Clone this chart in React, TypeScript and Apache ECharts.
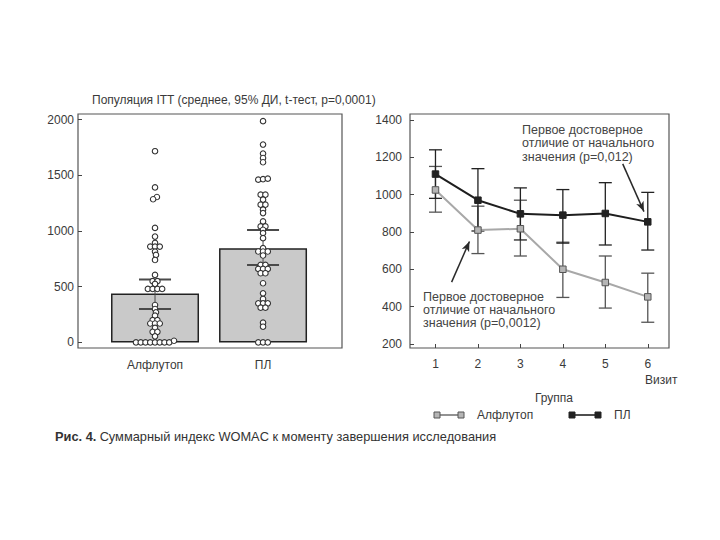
import React, { useEffect, useRef } from "react";
import * as echarts from "echarts";

// ---------- Left panel: ITT population ----------
const groups = ["Алфлутоп", "ПЛ"];
const groupMeans = [440, 845];
const groupCILow = [300, 695];
const groupCIHigh = [565, 1010];
const leftTicks = [0, 500, 1000, 1500, 2000];

// individual values: [value, column slot in the swarm]
const alflutopPoints = [
  [1716, 0], [1391, 0], [1305, 0.4], [1285, -0.4], [1028, 0], [950, 0], [893, 0],
  [860, -1], [860, 0], [860, 1], [815, 0], [785, 0.2], [740, 0],
  [606, 0], [550, -0.5], [550, 0.5], [525, 0],
  [480, -1.5], [480, -0.5], [480, 0.5], [480, 1.5],
  [336, 0], [300, 0], [270, 0.2], [240, 0], [200, -0.5], [200, 0.5],
  [170, -1], [170, 0], [170, 1], [130, 0], [95, -0.5], [95, 0.5], [55, 0],
  [0, -4], [0, -3], [0, -2], [0, -1], [0, 0], [0, 1], [0, 2], [0, 3], [15, 4],
];
const plPoints = [
  [1986, 0], [1776, 0], [1695, 0], [1655, 0], [1617, 0],
  [1461, -1], [1465, 0], [1470, 1], [1326, -0.5], [1326, 0.5], [1281, 0],
  [1236, -0.5], [1236, 0.5], [1191, 0], [1161, 0], [1086, 0],
  [1041, -0.5], [1041, 0.5], [1011, 0], [981, 0], [936, 0], [846, 0],
  [816, -1], [816, 0], [816, 1], [780, 0], [696, -0.5], [696, 0.5],
  [660, -1], [660, 0], [660, 1], [621, -0.5], [621, 0.5], [531, 0], [441, 0], [390, 0],
  [351, -1], [351, 0], [351, 1], [312, -0.5], [312, 0.5], [177, 0], [141, 0],
  [0, -1], [0, 0], [0, 1],
];

// ---------- Right panel: by visit ----------
const visits = [1, 2, 3, 4, 5, 6];
const alfMean = [1025, 810, 817, 600, 529, 452];
const alfLow = [906, 684, 671, 449, 392, 316];
const alfHigh = [1151, 938, 970, 745, 671, 579];
const plMean = [1110, 970, 897, 890, 899, 854];
const plLow = [980, 805, 757, 740, 730, 703];
const plHigh = [1240, 1139, 1036, 1027, 1064, 1012];
const rightTicks = [200, 400, 600, 800, 1000, 1200, 1400];

// annotation arrows in data coordinates [fromX, fromY, toX, toY]
const arrowPL = [5.41, 1165, 5.91, 909];
const arrowAlf = [1.38, 531, 1.8, 749];

const FONT = "'Liberation Sans', Arial, sans-serif";
const TXT = "#3a3a3a";
const SLOT = 0.044;

export default function App() {
  const ref = useRef<HTMLDivElement>(null);
  useEffect(() => {
    document.body.style.margin = "0";
    const chart = echarts.init(ref.current!, null, { renderer: "svg" });

    const errRender = (color: string, hw: number, lw: number, vw: number) => (params: any, api: any) => {
      const x = api.value(0);
      const lo = api.coord([x, api.value(1)]);
      const hi = api.coord([x, api.value(2)]);
      const st = { stroke: color, lineWidth: lw };
      return {
        type: "group",
        children: [
          { type: "line", shape: { x1: lo[0], y1: lo[1], x2: hi[0], y2: hi[1] }, style: { stroke: color, lineWidth: vw } },
          { type: "line", shape: { x1: lo[0] - hw, y1: lo[1], x2: lo[0] + hw, y2: lo[1] }, style: st },
          { type: "line", shape: { x1: hi[0] - hw, y1: hi[1], x2: hi[0] + hw, y2: hi[1] }, style: st },
        ],
      };
    };

    const swarm = (pts: number[][], gi: number) => pts.map((p) => [gi + 1 + p[1] * SLOT, p[0]]);

    const legendItem = (x1: number, x2: number, y: number, fill: string, stroke: string, lineColor: string, label: string) => [
      { type: "line", shape: { x1, y1: y, x2, y2: y }, style: { stroke: lineColor, lineWidth: 1.6 } },
      { type: "rect", shape: { x: x1 - 3, y: y - 3, width: 6, height: 6 }, style: { fill, stroke, lineWidth: 1 } },
      { type: "rect", shape: { x: x2 - 3, y: y - 3, width: 6, height: 6 }, style: { fill, stroke, lineWidth: 1 } },
      { type: "text", style: { text: label, x: x2 + 16, y, font: `12px ${FONT}`, fill: TXT, verticalAlign: "middle" } },
    ];

    const plain = (v: number) => String(v);

    const option: any = {
      animation: false,
      backgroundColor: "#fff",
      grid: [
        { left: 78, top: 114, width: 264, height: 234, show: true, borderColor: "#555", borderWidth: 1.2, backgroundColor: "transparent" },
        { left: 410, top: 114, width: 259, height: 234, show: true, borderColor: "#555", borderWidth: 1.2, backgroundColor: "transparent" },
      ],
      xAxis: [
        {
          type: "value", gridIndex: 0, min: 0.287, max: 2.731,
          axisLine: { show: false }, splitLine: { show: false }, axisTick: { show: false },
          axisLabel: { customValues: [1, 2], formatter: (v: number) => groups[Math.round(v) - 1], color: TXT, fontFamily: FONT, fontSize: 12, margin: 11 },
        },
        {
          type: "value", gridIndex: 1, min: 0.4, max: 6.5,
          axisLine: { show: false }, splitLine: { show: false },
          axisTick: { show: true, inside: true, length: 4, customValues: visits, lineStyle: { color: "#444" } },
          axisLabel: { customValues: visits, formatter: plain, color: TXT, fontFamily: FONT, fontSize: 12, margin: 10 },
        },
      ],
      yAxis: [
        {
          type: "value", gridIndex: 0, min: -50, max: 2050,
          axisLine: { show: false }, splitLine: { show: false },
          axisTick: { show: true, inside: true, length: 4, customValues: leftTicks, lineStyle: { color: "#444" } },
          axisLabel: { customValues: leftTicks, formatter: plain, color: TXT, fontFamily: FONT, fontSize: 12, margin: 4 },
        },
        {
          type: "value", gridIndex: 1, min: 178, max: 1432,
          axisLine: { show: false }, splitLine: { show: false },
          axisTick: { show: true, inside: true, length: 4, customValues: rightTicks, lineStyle: { color: "#444" } },
          axisLabel: { customValues: rightTicks, formatter: plain, color: TXT, fontFamily: FONT, fontSize: 12, margin: 8 },
        },
      ],
      series: [
        {
          type: "bar", xAxisIndex: 0, yAxisIndex: 0, barWidth: 88,
          data: groupMeans.map((v, i) => [i + 1, v]),
          itemStyle: { color: "#c9c9c9", borderColor: "#222", borderWidth: 1.5 },
          z: 1,
        },
        {
          type: "custom", xAxisIndex: 0, yAxisIndex: 0,
          data: groupMeans.map((_, i) => [i + 1, groupCILow[i], groupCIHigh[i]]),
          encode: { x: 0, y: [1, 2] },
          renderItem: errRender("#4a4a4a", 16, 2, 1),
          z: 2,
        },
        {
          type: "scatter", xAxisIndex: 0, yAxisIndex: 0, symbol: "circle", symbolSize: 5.5,
          data: swarm(alflutopPoints, 0),
          itemStyle: { color: "#fff", borderColor: "#333", borderWidth: 1.1, opacity: 1 },
          z: 3,
        },
        {
          type: "scatter", xAxisIndex: 0, yAxisIndex: 0, symbol: "circle", symbolSize: 5.5,
          data: swarm(plPoints, 1),
          itemStyle: { color: "#fff", borderColor: "#333", borderWidth: 1.1, opacity: 1 },
          z: 3,
        },
        // right panel
        {
          type: "custom", xAxisIndex: 1, yAxisIndex: 1,
          data: visits.map((v, i) => [v, alfLow[i], alfHigh[i]]),
          encode: { x: 0, y: [1, 2] },
          renderItem: errRender("#555", 6.5, 1.3, 1.3),
          z: 2,
        },
        {
          type: "custom", xAxisIndex: 1, yAxisIndex: 1,
          data: visits.map((v, i) => [v, plLow[i], plHigh[i]]),
          encode: { x: 0, y: [1, 2] },
          renderItem: errRender("#222", 6.5, 1.3, 1.3),
          z: 2,
        },
        {
          type: "line", name: "Алфлутоп", xAxisIndex: 1, yAxisIndex: 1,
          data: visits.map((v, i) => [v, alfMean[i]]),
          symbol: "rect", symbolSize: 6.5,
          lineStyle: { color: "#a8a8a8", width: 2 },
          itemStyle: { color: "#b5b5b5", borderColor: "#555", borderWidth: 1 },
          z: 3,
        },
        {
          type: "line", name: "ПЛ", xAxisIndex: 1, yAxisIndex: 1,
          data: visits.map((v, i) => [v, plMean[i]]),
          symbol: "rect", symbolSize: 6.5,
          lineStyle: { color: "#1e1e1e", width: 2 },
          itemStyle: { color: "#222", borderColor: "#222", borderWidth: 1 },
          z: 4,
          markLine: {
            silent: true,
            symbol: ["none", "arrow"],
            symbolSize: [6, 10],
            label: { show: false },
            lineStyle: { color: "#2a2a2a", width: 1.5, type: "solid" },
            data: [
              [{ coord: [arrowPL[0], arrowPL[1]] }, { coord: [arrowPL[2], arrowPL[3]] }],
              [{ coord: [arrowAlf[0], arrowAlf[1]] }, { coord: [arrowAlf[2], arrowAlf[3]] }],
            ],
          },
        },
      ],
      graphic: [
        { type: "text", style: { text: "Популяция ITT (среднее, 95% ДИ, t-тест, p=0,0001)", x: 92, y: 100, font: `12px ${FONT}`, fill: TXT, verticalAlign: "middle" } },
        { type: "text", style: { text: "Первое достоверное\nотличие от начального\nзначения (p=0,012)", x: 522, y: 123, font: `12.5px ${FONT}`, fill: "#444", lineHeight: 13.5, verticalAlign: "top" } },
        { type: "text", style: { text: "Первое достоверное\nотличие от начального\nзначения (p=0,0012)", x: 423, y: 291, font: `12.5px ${FONT}`, fill: "#444", lineHeight: 12.8, verticalAlign: "top" } },
        { type: "text", style: { text: "Визит", x: 645, y: 380, font: `12px ${FONT}`, fill: TXT, verticalAlign: "middle" } },
        { type: "text", style: { text: "Группа", x: 535, y: 398, font: `12px ${FONT}`, fill: TXT, verticalAlign: "middle" } },
        ...legendItem(437, 461, 415, "#b5b5b5", "#555", "#777", "Алфлутоп"),
        ...legendItem(572, 598, 415, "#222", "#222", "#222", "ПЛ"),
        {
          type: "text",
          style: {
            text: "{b|Рис. 4.} {n|Суммарный индекс WOMAC к моменту завершения исследования}",
            x: 55, y: 436, verticalAlign: "middle",
            rich: {
              b: { font: `bold 12.8px ${FONT}`, fill: "#333" },
              n: { font: `12.8px ${FONT}`, fill: "#333" },
            },
          },
        },
      ],
    };
    chart.setOption(option);
    return () => chart.dispose();
  }, []);
  return <div ref={ref} style={{ position: "fixed", left: 0, top: 0, width: 720, height: 540 }} />;
}
